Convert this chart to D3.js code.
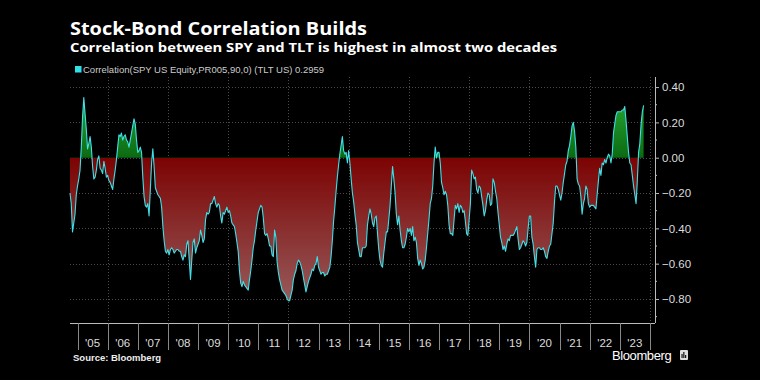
<!DOCTYPE html>
<html>
<head>
<meta charset="utf-8">
<script src="https://cdn.jsdelivr.net/npm/d3@7"></script>
<style>
  html, body { margin: 0; padding: 0; background: #000; }
  svg { display: block; }
  text { font-family: "Liberation Sans", Arial, sans-serif; }
</style>
</head>
<body>
<svg id="chart" width="760" height="380"></svg>
<script>
// SPY / TLT rolling correlation at half-month steps
const startYear = 2004.75
const stepYears = 1 / 24
const corr = [
  -0.20,-0.26,-0.42,-0.37,-0.32,-0.21,-0.16,-0.12,-0.07,0.06,
  0.23,0.34,0.25,0.16,0.05,0.08,0.12,0.06,-0.05,-0.12,
  -0.11,-0.07,-0.01,0.01,-0.06,-0.07,-0.09,-0.02,-0.06,-0.11,
  -0.10,-0.13,-0.14,-0.16,-0.18,-0.12,-0.07,-0.01,0.06,0.13,
  0.12,0.14,0.10,0.12,0.13,0.10,0.09,0.06,0.10,0.14,
  0.18,0.22,0.19,0.10,0.03,0.04,0.06,0.03,-0.11,-0.22,
  -0.27,-0.28,-0.26,-0.33,-0.18,-0.03,0.05,-0.05,-0.17,-0.19,
  -0.21,-0.22,-0.23,-0.28,-0.39,-0.47,-0.53,-0.54,-0.52,-0.55,
  -0.52,-0.51,-0.52,-0.54,-0.53,-0.52,-0.52,-0.53,-0.53,-0.56,
  -0.58,-0.55,-0.56,-0.49,-0.47,-0.58,-0.69,-0.58,-0.48,-0.46,
  -0.54,-0.51,-0.49,-0.47,-0.41,-0.44,-0.48,-0.46,-0.35,-0.31,
  -0.32,-0.31,-0.26,-0.26,-0.24,-0.22,-0.26,-0.28,-0.26,-0.27,
  -0.33,-0.37,-0.31,-0.32,-0.30,-0.28,-0.31,-0.30,-0.33,-0.37,
  -0.38,-0.39,-0.43,-0.48,-0.53,-0.64,-0.71,-0.73,-0.70,-0.72,
  -0.73,-0.74,-0.75,-0.69,-0.64,-0.58,-0.51,-0.47,-0.41,-0.36,
  -0.31,-0.29,-0.27,-0.28,-0.34,-0.43,-0.44,-0.43,-0.46,-0.50,
  -0.50,-0.55,-0.56,-0.41,-0.45,-0.59,-0.65,-0.69,-0.72,-0.75,
  -0.76,-0.77,-0.78,-0.80,-0.81,-0.81,-0.78,-0.75,-0.69,-0.66,
  -0.64,-0.60,-0.58,-0.59,-0.61,-0.64,-0.68,-0.72,-0.76,-0.73,
  -0.70,-0.68,-0.66,-0.63,-0.64,-0.61,-0.60,-0.56,-0.62,-0.64,
  -0.66,-0.65,-0.65,-0.67,-0.66,-0.66,-0.64,-0.62,-0.56,-0.47,
  -0.36,-0.28,-0.19,-0.11,-0.04,0.02,0.07,0.12,0.04,0.02,
  0.03,-0.03,0.04,-0.03,-0.12,-0.20,-0.25,-0.32,-0.38,-0.48,
  -0.52,-0.56,-0.56,-0.51,-0.51,-0.51,-0.50,-0.38,-0.33,-0.29,
  -0.32,-0.37,-0.39,-0.34,-0.33,-0.43,-0.52,-0.58,-0.61,-0.62,
  -0.54,-0.48,-0.42,-0.42,-0.35,-0.27,-0.16,-0.05,-0.12,-0.20,
  -0.32,-0.38,-0.33,-0.41,-0.47,-0.51,-0.51,-0.49,-0.45,-0.40,
  -0.42,-0.40,-0.44,-0.39,-0.47,-0.45,-0.48,-0.57,-0.61,-0.58,
  -0.60,-0.63,-0.62,-0.58,-0.51,-0.43,-0.35,-0.26,-0.23,-0.16,
  -0.03,0.06,0.00,0.03,0.03,-0.03,-0.14,-0.17,-0.21,-0.19,
  -0.21,-0.27,-0.38,-0.43,-0.43,-0.44,-0.35,-0.27,-0.29,-0.26,
  -0.31,-0.27,-0.28,-0.31,-0.30,-0.36,-0.43,-0.44,-0.35,-0.26,
  -0.07,-0.09,-0.12,-0.11,-0.18,-0.20,-0.16,-0.17,-0.22,-0.27,
  -0.33,-0.30,-0.24,-0.20,-0.21,-0.27,-0.26,-0.12,-0.14,-0.19,
  -0.23,-0.31,-0.38,-0.45,-0.48,-0.52,-0.50,-0.53,-0.49,-0.46,
  -0.47,-0.44,-0.44,-0.44,-0.43,-0.41,-0.39,-0.46,-0.52,-0.51,
  -0.49,-0.47,-0.48,-0.50,-0.48,-0.40,-0.33,-0.33,-0.45,-0.49,
  -0.56,-0.62,-0.52,-0.51,-0.51,-0.52,-0.52,-0.51,-0.53,-0.56,
  -0.57,-0.53,-0.50,-0.49,-0.43,-0.37,-0.25,-0.16,-0.16,-0.18,
  -0.21,-0.24,-0.20,-0.14,-0.09,-0.04,-0.02,0.04,0.07,0.12,
  0.18,0.20,0.15,0.06,-0.12,-0.15,-0.16,-0.22,-0.32,-0.26,
  -0.23,-0.16,-0.18,-0.26,-0.28,-0.27,-0.27,-0.27,-0.28,-0.29,
  -0.21,-0.13,-0.06,-0.10,-0.03,-0.04,-0.01,-0.03,0.00,0.02,
  0.01,-0.03,0.02,0.14,0.19,0.24,0.26,0.26,0.26,0.26,
  0.27,0.27,0.29,0.21,0.12,0.03,-0.03,-0.04,-0.10,-0.16,
  -0.21,-0.26,-0.13,0.03,0.08,0.19,0.26,0.2959
]
const years = d3.range(2005, 2025)
const yearLabels = years.slice(0, 19).map(yr => "'" + String(yr).slice(2))
const yTicks = [0.4, 0.2, 0, -0.2, -0.4, -0.6, -0.8]
const yMinor = [0.3, 0.1, -0.1, -0.3, -0.5, -0.7, -0.9]
const gridYears = [2006, 2008, 2010, 2012, 2014, 2016, 2018, 2020, 2022, 2024]

const title = "Stock-Bond Correlation Builds"
const subtitle = "Correlation between SPY and TLT is highest in almost two decades"
const legendText = "Correlation(SPY US Equity,PR005,90,0) (TLT US) 0.2959"

const data = corr.map((v, i) => ({t: startYear + i * stepYears, v: v}))

const svg = d3.select("#chart")
const pLeft = 70, pRight = 655, pTop = 77, pBottom = 323

const x = d3.scaleLinear().domain([2004.75, 2024.17]).range([pLeft, pRight])
const y = d3.scaleLinear().domain([-0.936, 0.457]).range([pBottom, pTop])

svg.append("rect").attr("width", 760).attr("height", 380).attr("fill", "#000")

// gradient: green above zero, red below
const defs = svg.append("defs")
const grad = defs.append("linearGradient")
  .attr("id", "fillGrad")
  .attr("gradientUnits", "userSpaceOnUse")
  .attr("x1", 0).attr("x2", 0)
  .attr("y1", y(0.35)).attr("y2", y(-0.85))
const zeroOff = (y(0) - y(0.35)) / (y(-0.85) - y(0.35))
grad.append("stop").attr("offset", 0).attr("stop-color", "#27a834")
grad.append("stop").attr("offset", zeroOff).attr("stop-color", "#0c6a12")
grad.append("stop").attr("offset", zeroOff).attr("stop-color", "#7c0303")
grad.append("stop").attr("offset", 1).attr("stop-color", "#985e5e")

// grid
const grid = svg.append("g")
grid.selectAll("line.gy")
  .data(yTicks)
  .join("line")
  .attr("class", "gy")
  .attr("x1", pLeft).attr("x2", pRight)
  .attr("y1", d => Math.round(y(d)) + 0.5).attr("y2", d => Math.round(y(d)) + 0.5)
  .attr("stroke", "#4a4a4a").attr("stroke-width", 1)
  .attr("stroke-dasharray", "1,2")
grid.selectAll("line.gx")
  .data(gridYears)
  .join("line")
  .attr("class", "gx")
  .attr("x1", d => Math.round(x(d)) + 0.5).attr("x2", d => Math.round(x(d)) + 0.5)
  .attr("y1", pTop).attr("y2", pBottom)
  .attr("stroke", "#4a4a4a").attr("stroke-width", 1)
  .attr("stroke-dasharray", "1,2")

// area between line and zero
const area = d3.area()
  .x(d => x(d.t))
  .y0(y(0))
  .y1(d => y(d.v))
svg.append("path")
  .datum(data)
  .attr("d", area)
  .attr("fill", "url(#fillGrad)")

const line = d3.line()
  .x(d => x(d.t))
  .y(d => y(d.v))
svg.append("path")
  .datum(data)
  .attr("d", line)
  .attr("fill", "none")
  .attr("stroke", "#3fe0e8")
  .attr("stroke-width", 1.1)
  .attr("stroke-linejoin", "round")

// y axis on the right
const yAxis = svg.append("g")
  .attr("transform", "translate(" + pRight + ",0)")
  .call(d3.axisRight(y).tickValues(yTicks).tickSize(4).tickPadding(3)
    .tickFormat(d3.format(".2f")))
yAxis.select(".domain").remove()
yAxis.selectAll("line").attr("stroke", "#bbb")
yAxis.selectAll("text").attr("fill", "#ddd").attr("font-size", 11.5)
  .style("font-family", "'Liberation Sans', Arial, sans-serif")

svg.append("g")
  .attr("transform", "translate(" + pRight + ",0)")
  .selectAll("line")
  .data(yMinor)
  .join("line")
  .attr("x1", 0).attr("x2", 2)
  .attr("y1", d => y(d)).attr("y2", d => y(d))
  .attr("stroke", "#bbb")

svg.append("line")
  .attr("x1", pRight + 0.5).attr("x2", pRight + 0.5)
  .attr("y1", pTop).attr("y2", pBottom)
  .attr("stroke", "#bbb")

// x axis
svg.append("line")
  .attr("x1", pLeft).attr("x2", pRight)
  .attr("y1", pBottom + 0.5).attr("y2", pBottom + 0.5)
  .attr("stroke", "#bbb")
svg.append("g")
  .selectAll("line")
  .data(years)
  .join("line")
  .attr("x1", d => Math.round(x(d)) + 0.5).attr("x2", d => Math.round(x(d)) + 0.5)
  .attr("y1", pBottom).attr("y2", pBottom + 27)
  .attr("stroke", "#888")
svg.append("g")
  .selectAll("text")
  .data(yearLabels)
  .join("text")
  .attr("x", (d, i) => x(years[i] + 0.5))
  .attr("y", 347)
  .attr("text-anchor", "middle")
  .attr("fill", "#ddd")
  .attr("font-size", 11.5)
  .text(d => d)

// titles and legend
svg.append("text")
  .attr("x", 70).attr("y", 35)
  .attr("fill", "#fff").attr("font-size", 18).attr("font-weight", "bold")
  .style("font-family", "'Open Sans', sans-serif")
  .attr("textLength", 297).attr("lengthAdjust", "spacingAndGlyphs")
  .text(title)
svg.append("text")
  .attr("x", 70).attr("y", 52)
  .attr("fill", "#fff").attr("font-size", 13).attr("font-weight", "bold")
  .style("font-family", "'Open Sans', sans-serif")
  .attr("textLength", 487).attr("lengthAdjust", "spacingAndGlyphs")
  .text(subtitle)
svg.append("rect")
  .attr("x", 75).attr("y", 66).attr("width", 6.5).attr("height", 6.5)
  .attr("fill", "#2fe0e4")
svg.append("text")
  .attr("x", 83).attr("y", 73)
  .attr("fill", "#ccc").attr("font-size", 9.5)
  .text(legendText)

// footer
svg.append("text")
  .attr("x", 73).attr("y", 361)
  .attr("fill", "#eee").attr("font-size", 9.5).attr("font-weight", "bold")
  .text("Source: Bloomberg")
svg.append("text")
  .attr("x", 612).attr("y", 360)
  .attr("fill", "#fff").attr("font-size", 13).attr("letter-spacing", -0.4)
  .text("Bloomberg")
const logo = svg.append("g").attr("transform", "translate(680,350)")
logo.append("rect").attr("width", 8).attr("height", 10).attr("rx", 1).attr("fill", "#ddd")
logo.selectAll("rect.bar")
  .data([4, 6, 3])
  .join("rect")
  .attr("class", "bar")
  .attr("x", (d, i) => 1.5 + i * 1.8).attr("y", d => 8 - d)
  .attr("width", 1.1).attr("height", d => d)
  .attr("fill", "#000")
</script>
</body>
</html>
